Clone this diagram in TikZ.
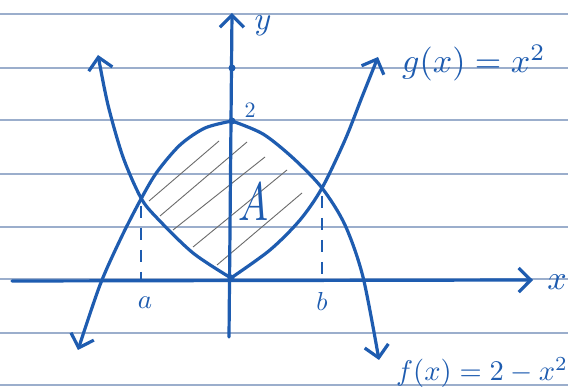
\documentclass[tikz,border=0pt]{standalone}
\usetikzlibrary{arrows.meta}
\usepackage{xcolor}
\definecolor{ink}{RGB}{30,92,176}
\definecolor{paper}{RGB}{155,174,204}
\tikzset{
  paperline/.style={line width=1.1pt, paper},
  inkline/.style={line width=3.2pt, ink, line cap=round, line join=round},
  guideline/.style={line width=1.9pt, ink, dash pattern=on 12pt off 10pt},
  hatchline/.style={line width=0.9pt, black!58},
  inkdot/.style={circle, fill=ink, inner sep=0pt, minimum size=7pt},
  inklabel/.style={ink, inner sep=0pt},
  barbtip/.tip={Straight Barb[length=12pt,width=24pt]},
}

\begin{document}
\begin{tikzpicture}[x=1pt,y=1pt]
\useasboundingbox (0,0) rectangle (568,-387);
\fill[white] (0,0) rectangle (568,-387);
\foreach \py in {14,68,120,174,227,279,333,385}
  \draw[paperline] (0,-\py) -- (568,-\py);
\coordinate (xl) at (12,-281);
\coordinate (xr) at (533,-280);
\coordinate (yb) at (229,-337);
\coordinate (yt) at (232,-13);
\coordinate (Pa) at (141,-206);
\coordinate (Pb) at (322,-196);
\coordinate (Ta) at (141,-279);
\coordinate (Tb) at (322,-279);
\draw[hatchline] (149,-201) -- (219,-141);
\draw[hatchline] (160,-216) -- (247,-142);
\draw[hatchline] (173,-230) -- (265,-157);
\draw[hatchline] (193,-247) -- (287,-170);
\draw[hatchline] (217,-265) -- (302,-193);
\draw[guideline] (Pa) -- (Ta);
\draw[guideline] (Pb) -- (Tb);
\draw[inkline,-barbtip] (xl) -- (xr);
\draw[inkline,-barbtip] (yb) -- (yt);
\draw[inkline,-barbtip] plot[smooth] coordinates {(231,-278) (193,-253) (157,-218) (141,-198) (123,-157) (108,-105) (98,-55)};
\draw[inkline,-barbtip] plot[smooth] coordinates {(231,-278) (270,-250) (300,-220) (322,-188) (345,-140) (362,-97) (378,-57)};
\draw[inkline,-barbtip] plot[smooth] coordinates {(232,-121) (205,-128) (180,-145) (157,-172) (141,-199) (121,-238) (100,-285) (78,-350)};
\draw[inkline,-barbtip] plot[smooth] coordinates {(232,-121) (263,-134) (293,-158) (322,-188) (345,-225) (363,-277) (379,-360)};
\node[inkdot] (tick) at (232,-68) {};
\node[inkdot] (top) at (232,-121) {};
\node[inkdot] (O) at (231,-278) {};
\node[inklabel] (ylab) at (263,-26) {\scalebox{3.2}{$y$}};
\node[inklabel] (xlab) at (557,-282) {\scalebox{3.4}{$x$}};
\node[inklabel] (twolab) at (250,-110) {\scalebox{2.2}{$2$}};
\node[inklabel] (alab) at (145,-303) {\scalebox{2.7}{$a$}};
\node[inklabel] (blab) at (322,-301) {\scalebox{2.6}{$b$}};
\node[inklabel] (Alab) at (253,-202) {\scalebox{4.0}[5.4]{$A$}};
\node[inklabel, anchor=base west] (glab) at (402,-73) {\scalebox{3.4}{$g(x) = x^2$}};
\node[inklabel, anchor=base west] (flab) at (396,-381) {\scalebox{2.85}{$f(x) = 2 - x^2$}};
\end{tikzpicture}
\end{document}
